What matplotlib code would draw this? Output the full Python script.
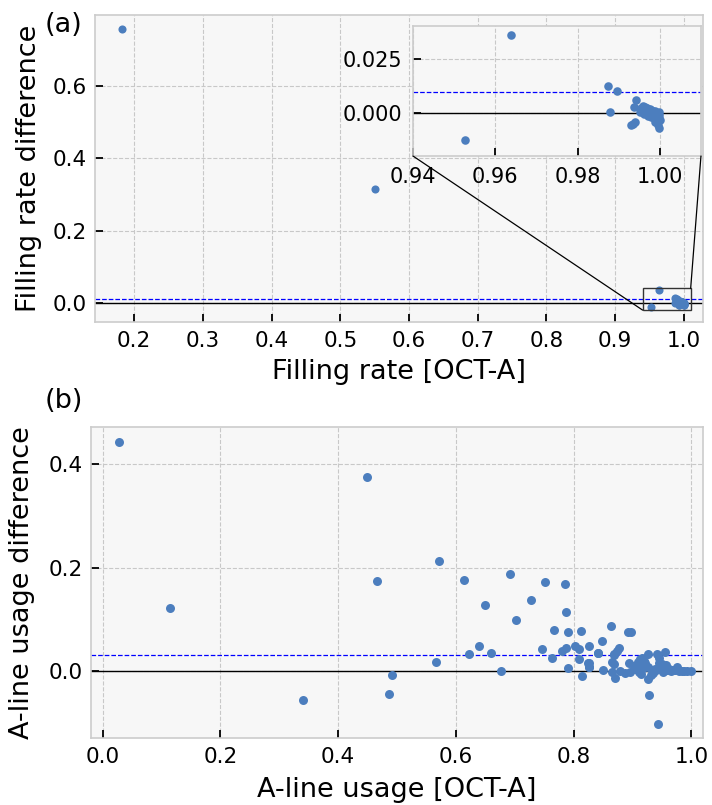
import matplotlib
matplotlib.use("Agg")
import matplotlib.pyplot as plt
from matplotlib.patches import Rectangle, ConnectionPatch

# ---- data: panel (a) filling rate ----
fill_x = [0.183, 0.550, 0.9526, 0.9638, 0.9875, 0.9896, 0.9879,
          0.9942, 0.9937, 0.9931, 0.9936, 0.9940, 0.9952, 0.9955, 0.9958,
          0.9960, 0.9962, 0.9964, 0.9966, 0.9968, 0.9970, 0.9971, 0.9973,
          0.9975, 0.9976, 0.9978, 0.9979, 0.9980, 0.9982, 0.9983, 0.9985,
          0.9986, 0.9987, 0.9988, 0.9990, 0.9991, 0.9992, 0.9993, 0.9994,
          0.9995, 0.9996, 0.9997, 0.9998, 0.9999, 1.0000, 0.9997, 0.9989]
fill_diff = [0.758, 0.315, -0.0126, 0.0360, 0.0124, 0.0100, 0.0003,
             0.0058, 0.0025, -0.0058, -0.0050, -0.0045, 0.0005, 0.0020, 0.0030,
             0.0010, -0.0005, 0.0025, 0.0015, 0.0000, 0.0020, -0.0015, 0.0010,
             0.0018, -0.0005, -0.0020, 0.0012, 0.0005, -0.0010, 0.0008, -0.0025,
             0.0002, -0.0015, 0.0006, -0.0030, -0.0008, 0.0000, -0.0040, -0.0018,
             -0.0005, -0.0055, -0.0025, -0.0010, -0.0072, -0.0035, 0.0002, -0.0045]
fill_mean = 0.0097

# ---- data: panel (b) A-line usage ----
aline_x = [0.027, 0.114, 0.340, 0.449, 0.466, 0.486, 0.491, 0.571, 0.566,
           0.614, 0.639, 0.623, 0.650, 0.659, 0.676, 0.692, 0.703, 0.728,
           0.751, 0.747, 0.764, 0.767, 0.785, 0.788, 0.791, 0.781, 0.787,
           0.790, 0.803, 0.810, 0.813, 0.810, 0.815, 0.827, 0.826, 0.826,
           0.842, 0.848, 0.850, 0.863, 0.868, 0.878, 0.874, 0.869, 0.893,
           0.897, 0.825, 0.827, 0.841, 0.865, 0.868, 0.866, 0.871, 0.879,
           0.888, 0.896, 0.894, 0.909, 0.913, 0.916, 0.926, 0.942, 0.955,
           0.946, 0.922, 0.927, 0.933, 0.927, 0.928, 0.943, 0.957, 0.958,
           0.969, 0.976, 0.984, 0.993, 0.999, 0.905, 0.912, 0.918, 0.935,
           0.940, 0.948, 0.952, 0.962, 0.965, 0.972, 0.980, 0.988, 0.902,
           0.915, 0.938, 0.950, 0.931, 0.920, 0.908, 0.945, 0.960]
aline_diff = [0.443, 0.122, -0.056, 0.375, 0.174, -0.045, -0.008, 0.212, 0.018,
              0.175, 0.049, 0.032, 0.128, 0.035, -0.001, 0.187, 0.099, 0.137,
              0.171, 0.043, 0.024, 0.079, 0.168, 0.113, 0.075, 0.039, 0.045,
              0.006, 0.048, 0.043, 0.078, 0.023, -0.009, 0.048, 0.015, 0.008,
              0.035, 0.057, 0.002, 0.086, 0.031, 0.044, 0.038, 0.033, 0.076,
              0.076, 0.015, 0.008, 0.035, 0.018, 0.013, -0.003, -0.013, -0.001,
              -0.004, -0.003, 0.016, 0.018, 0.023, 0.025, 0.032, 0.032, 0.036,
              0.024, 0.015, 0.008, 0.002, -0.015, -0.047, -0.103, 0.012, 0.002,
              0.002, 0.007, 0.000, 0.000, 0.000, 0.003, -0.002, 0.005, -0.004,
              0.001, 0.006, -0.002, 0.003, -0.001, 0.001, 0.000, 0.000, 0.010,
              -0.006, 0.004, 0.013, -0.008, 0.020, 0.006, 0.016, 0.004]
aline_mean = 0.031

BG = "#f7f7f7"
SPINE = "#cccccc"
PT = "#4c7ebe"

plt.rcParams["font.family"] = ["DejaVu Sans"]

fig = plt.figure(figsize=(7.12, 8.05), dpi=100)


def style(ax, fs=15.5):
    ax.set_facecolor(BG)
    for s in ax.spines.values():
        s.set_color(SPINE)
        s.set_linewidth(1.2)
    ax.grid(True, linestyle="--", color="#c8c8c8", linewidth=0.8)
    ax.set_axisbelow(True)
    ax.tick_params(direction="in", length=6, width=1.3, color="black",
                   labelsize=fs)
    ax.tick_params(axis="x", pad=6.5)
    ax.tick_params(axis="y", pad=6)


# ---- panel (a) ----
ax1 = fig.add_axes([0.1334, 0.600, 0.854, 0.3814])
style(ax1)
ax1.axhline(0, color="black", linewidth=1.0, zorder=2)
ax1.axhline(fill_mean, color="blue", linestyle="--", linewidth=0.9, zorder=2)
ax1.scatter(fill_x, fill_diff, s=34, color=PT, linewidths=0, zorder=3)
ax1.set_xlim(0.143, 1.028)
ax1.set_ylim(-0.053, 0.797)
ax1.set_xticks([0.2, 0.3, 0.4, 0.5, 0.6, 0.7, 0.8, 0.9, 1.0])
ax1.set_yticks([0.0, 0.2, 0.4, 0.6])
ax1.set_xlabel("Filling rate [OCT-A]", fontsize=19.5, va="top")
ax1.set_ylabel("Filling rate difference", fontsize=19.5)
ax1.xaxis.set_label_coords(0.5, -0.119)
ax1.yaxis.set_label_coords(-0.087, 0.5)

# inset
x0, x1, y0, y1 = 0.94, 1.01, -0.02, 0.04
axins = fig.add_axes([0.580, 0.8062, 0.4045, 0.1615])
style(axins, fs=15)
axins.tick_params(axis="both", pad=8)
axins.axhline(0, color="black", linewidth=1.0, zorder=2)
axins.axhline(fill_mean, color="blue", linestyle="--", linewidth=0.9, zorder=2)
axins.scatter(fill_x, fill_diff, s=38, color=PT, linewidths=0, zorder=3)
axins.set_xlim(x0, x1)
axins.set_ylim(y0, y1)
axins.set_xticks([0.94, 0.96, 0.98, 1.00])
axins.set_yticks([0.000, 0.025])
axins.set_xticklabels(["0.94", "0.96", "0.98", "1.00"])
axins.set_yticklabels(["0.000", "0.025"])

rect = Rectangle((x0, y0), x1 - x0, y1 - y0, fill=False, edgecolor="#333333",
                 linewidth=1.0, zorder=4)
ax1.add_patch(rect)
for (px, py), (ix, iy) in [((x0, y0), (0, 0)), ((x1, y1), (1, 0))]:
    con = ConnectionPatch(xyA=(px, py), coordsA=ax1.transData,
                          xyB=(ix, iy), coordsB=axins.transAxes,
                          color="black", linewidth=0.9)
    fig.add_artist(con)

fig.text(0.063, 0.969, "(a)", fontsize=19.5, ha="left", va="center")

# ---- panel (b) ----
ax2 = fig.add_axes([0.1278, 0.0832, 0.8596, 0.3864])
style(ax2)
ax2.axhline(0, color="black", linewidth=1.0, zorder=2)
ax2.axhline(aline_mean, color="blue", linestyle="--", linewidth=0.9, zorder=2)
ax2.scatter(aline_x, aline_diff, s=42, color=PT, linewidths=0, zorder=3)
ax2.set_xlim(-0.02, 1.02)
ax2.set_ylim(-0.130, 0.472)
ax2.set_xticks([0.0, 0.2, 0.4, 0.6, 0.8, 1.0])
ax2.set_yticks([0.0, 0.2, 0.4])
ax2.set_xlabel("A-line usage [OCT-A]", fontsize=19.5, va="top")
ax2.set_ylabel("A-line usage difference", fontsize=19.5)
ax2.xaxis.set_label_coords(0.5, -0.124)
ax2.yaxis.set_label_coords(-0.0915, 0.5)
fig.text(0.063, 0.502, "(b)", fontsize=19.5, ha="left", va="center")

fig.savefig("out.png", dpi=100)
